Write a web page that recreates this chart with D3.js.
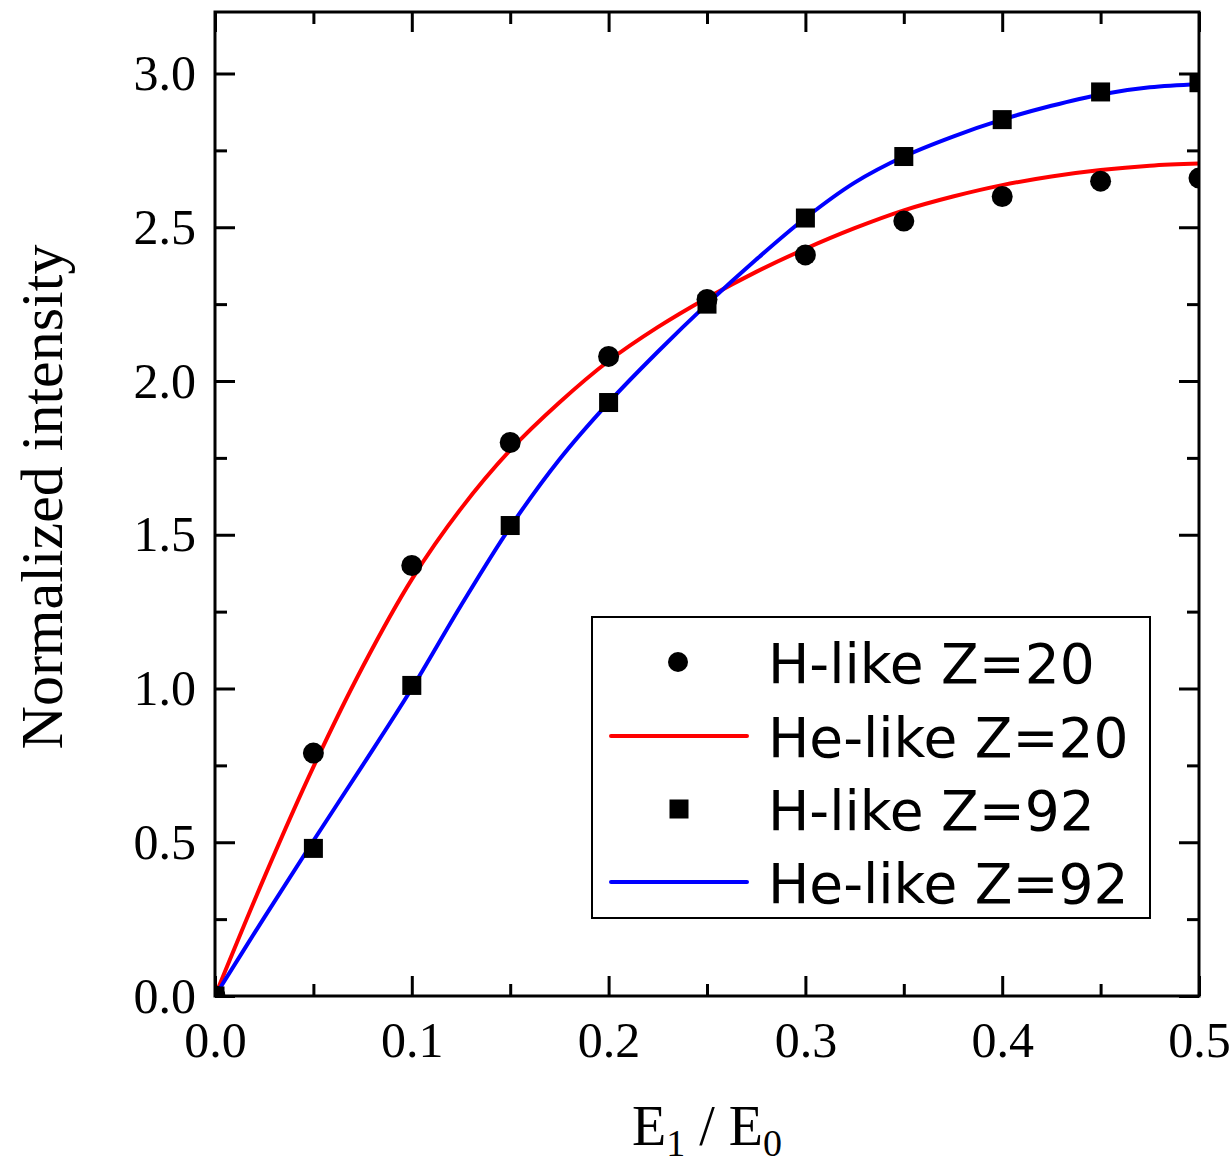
<!DOCTYPE html>
<html>
<head>
<meta charset="utf-8">
<script src="https://cdn.jsdelivr.net/npm/d3@7"></script>
<style>
  html, body { margin: 0; padding: 0; background: #fff; }
  svg { display: block; }
</style>
</head>
<body>
<svg id="chart" width="1229" height="1165"></svg>
<script>
// ---- data ----
const xPoints = [0, 0.05, 0.1, 0.15, 0.2, 0.25, 0.3, 0.35, 0.4, 0.45, 0.5];
const hLikeZ20 = [0, 0.79, 1.40, 1.80, 2.08, 2.265, 2.41, 2.52, 2.60, 2.65, 2.66];
const hLikeZ92 = [0, 0.48, 1.01, 1.53, 1.93, 2.25, 2.53, 2.73, 2.85, 2.94, 2.97];

const xCurve = [0, 0.025, 0.05, 0.075, 0.1, 0.125, 0.15, 0.175, 0.2, 0.225, 0.25,
                0.275, 0.3, 0.325, 0.35, 0.375, 0.4, 0.425, 0.45, 0.475, 0.5];
const heLikeZ20 = [0, 0.385, 0.745, 1.07, 1.355, 1.585, 1.775, 1.93, 2.065, 2.175, 2.27,
                   2.355, 2.43, 2.497, 2.555, 2.60, 2.637, 2.665, 2.686, 2.70, 2.707];
const heLikeZ92 = [0, 0.255, 0.505, 0.75, 1.0, 1.27, 1.525, 1.745, 1.93, 2.095, 2.25,
                   2.395, 2.53, 2.645, 2.73, 2.795, 2.85, 2.895, 2.932, 2.955, 2.965];

const xMajorTicks = [0, 0.1, 0.2, 0.3, 0.4, 0.5];
const xMinorTicks = [0.05, 0.15, 0.25, 0.35, 0.45];
const yMajorTicks = [0, 0.5, 1.0, 1.5, 2.0, 2.5, 3.0];
const yMinorTicks = [0.25, 0.75, 1.25, 1.75, 2.25, 2.75];

const legendLabels = ["H-like Z=20", "He-like Z=20", "H-like Z=92", "He-like Z=92"];

// ---- layout ----
const L = 215, R = 1199, T = 12, B = 996;
const svg = d3.select("#chart");
const x = d3.scaleLinear().domain([0, 0.5]).range([L, R]);
const y = d3.scaleLinear().domain([0, 3.2]).range([B, T]);

svg.append("defs").append("clipPath").attr("id", "plotclip")
  .append("rect").attr("x", L).attr("y", T).attr("width", R - L).attr("height", B - T);

const serif = "'Liberation Serif', 'Times New Roman', serif";

// ---- curves ----
const plot = svg.append("g").attr("clip-path", "url(#plotclip)");
const line = d3.line().x(d => x(d[0])).y(d => y(d[1])).curve(d3.curveCatmullRom.alpha(0.5));

plot.append("path").datum(xCurve.map((v, i) => [v, heLikeZ20[i]]))
  .attr("d", line).attr("fill", "none").attr("stroke", "#ff0000").attr("stroke-width", 4);
plot.append("path").datum(xCurve.map((v, i) => [v, heLikeZ92[i]]))
  .attr("d", line).attr("fill", "none").attr("stroke", "#0000ff").attr("stroke-width", 4);

// ---- markers ----
plot.selectAll("circle.h20").data(xPoints.map((v, i) => [v, hLikeZ20[i]]))
  .join("circle").attr("class", "h20")
  .attr("cx", d => x(d[0])).attr("cy", d => y(d[1])).attr("r", 10.5).attr("fill", "#000");
const sq = 19;
plot.selectAll("rect.h92").data(xPoints.map((v, i) => [v, hLikeZ92[i]]))
  .join("rect").attr("class", "h92")
  .attr("x", d => x(d[0]) - sq / 2).attr("y", d => y(d[1]) - sq / 2)
  .attr("width", sq).attr("height", sq).attr("fill", "#000");

// ---- axes ----
function styleAxis(g) {
  g.select(".domain").remove();
  g.selectAll(".tick line").attr("stroke", "#000").attr("stroke-width", 3);
  g.selectAll(".tick text").attr("font-family", serif).attr("font-size", 50).attr("fill", "#000");
}
svg.append("g").attr("transform", `translate(0,${B})`)
  .call(d3.axisBottom(x).tickValues(xMajorTicks).tickSize(-20).tickPadding(25).tickFormat(d3.format(".1f")))
  .call(styleAxis);
svg.append("g").attr("transform", `translate(0,${B})`)
  .call(d3.axisBottom(x).tickValues(xMinorTicks).tickSize(-12).tickFormat(""))
  .call(styleAxis);
svg.append("g").attr("transform", `translate(0,${T})`)
  .call(d3.axisTop(x).tickValues(xMajorTicks).tickSize(-20).tickFormat(""))
  .call(styleAxis);
svg.append("g").attr("transform", `translate(0,${T})`)
  .call(d3.axisTop(x).tickValues(xMinorTicks).tickSize(-12).tickFormat(""))
  .call(styleAxis);

svg.append("g").attr("transform", `translate(${L},0)`)
  .call(d3.axisLeft(y).tickValues(yMajorTicks).tickSize(-20).tickPadding(19).tickFormat(d3.format(".1f")))
  .call(styleAxis);
svg.append("g").attr("transform", `translate(${L},0)`)
  .call(d3.axisLeft(y).tickValues(yMinorTicks).tickSize(-12).tickFormat(""))
  .call(styleAxis);
svg.append("g").attr("transform", `translate(${R},0)`)
  .call(d3.axisRight(y).tickValues(yMajorTicks).tickSize(-20).tickFormat(""))
  .call(styleAxis);
svg.append("g").attr("transform", `translate(${R},0)`)
  .call(d3.axisRight(y).tickValues(yMinorTicks).tickSize(-12).tickFormat(""))
  .call(styleAxis);

// frame
svg.append("rect").attr("x", L).attr("y", T).attr("width", R - L).attr("height", B - T)
  .attr("fill", "none").attr("stroke", "#000").attr("stroke-width", 3);

// ---- axis titles ----
const xt = svg.append("text").attr("x", (L + R) / 2).attr("y", 1145)
  .attr("text-anchor", "middle").attr("font-family", serif).attr("font-size", 56).attr("fill", "#000");
xt.append("tspan").text("E");
xt.append("tspan").attr("font-size", 38).attr("dy", 11).text("1");
xt.append("tspan").attr("dy", -11).text(" / E");
xt.append("tspan").attr("font-size", 38).attr("dy", 11).text("0");

svg.append("text").attr("transform", `translate(62,497) rotate(-90)`)
  .attr("text-anchor", "middle").attr("font-family", serif).attr("font-size", 60).attr("fill", "#000")
  .text("Normalized intensity");

// ---- legend ----
const lg = svg.append("g");
lg.append("rect").attr("x", 592).attr("y", 617).attr("width", 558).attr("height", 301)
  .attr("fill", "#fff").attr("stroke", "#000").attr("stroke-width", 2);
const baseY = [683, 757, 830, 903];
const sans = "'DejaVu Sans', sans-serif";
legendLabels.forEach((lab, i) => {
  const by = baseY[i];
  const cy = by - 21;
  if (i === 0) lg.append("circle").attr("cx", 678).attr("cy", cy).attr("r", 10).attr("fill", "#000");
  if (i === 2) lg.append("rect").attr("x", 679 - 9.5).attr("y", cy - 9.5).attr("width", 19).attr("height", 19).attr("fill", "#000");
  if (i === 1 || i === 3) lg.append("line").attr("x1", 611).attr("x2", 747).attr("y1", cy).attr("y2", cy)
    .attr("stroke", i === 1 ? "#ff0000" : "#0000ff").attr("stroke-width", 4).attr("stroke-linecap", "round");
  lg.append("text").attr("x", 768).attr("y", by).attr("font-family", sans).attr("font-size", 55)
    .attr("fill", "#000").text(lab);
});
</script>
</body>
</html>
